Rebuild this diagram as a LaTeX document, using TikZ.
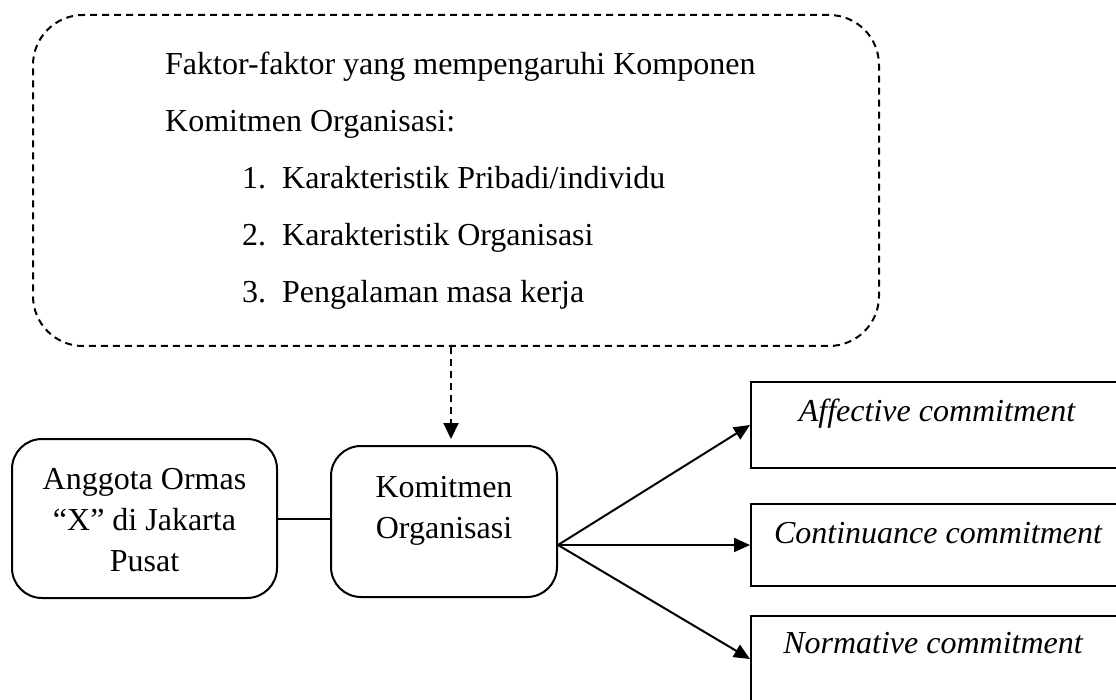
\documentclass[tikz,border=0pt]{standalone}
\usepackage{fontspec}
\setmainfont{Liberation Serif}
\usetikzlibrary{arrows.meta}
\begin{document}
\begin{tikzpicture}[x=1pt,y=-1pt,
  font=\fontsize{32}{41}\selectfont,
  txt/.style={inner sep=0pt},
  dashbox/.style={draw, line width=2pt, dash pattern=on 7pt off 5pt, rounded corners=50pt, inner sep=0pt},
  roundbox/.style={draw, line width=2pt, rounded corners=30pt, inner sep=0pt},
  sqbox/.style={draw, line width=2pt, inner sep=0pt, minimum width=372pt},
  arr/.style={line width=2pt, -{Triangle[length=16pt,width=14pt]}},
  darr/.style={line width=2pt, dash pattern=on 7pt off 5pt, -{Triangle[length=16pt,width=15pt]}},
  conn/.style={line width=2pt}
]
\useasboundingbox (0,0) rectangle (1116,700);
\clip (0,0) rectangle (1116,700);

% dashed factor box
\node[dashbox, minimum width=846pt, minimum height=331pt] (factors) at (456,180.5) {};
\node[txt, anchor=base west] (f1) at (165,75) {Faktor-faktor yang mempengaruhi Komponen};
\node[txt, anchor=base west] (f2) at (165,132) {Komitmen Organisasi:};
\node[txt, anchor=base west] (n1) at (242,189) {1.};
\node[txt, anchor=base west] (i1) at (282,189) {Karakteristik Pribadi/individu};
\node[txt, anchor=base west] (n2) at (242,246) {2.};
\node[txt, anchor=base west] (i2) at (282,246) {Karakteristik Organisasi};
\node[txt, anchor=base west] (n3) at (242,303) {3.};
\node[txt, anchor=base west] (i3) at (282,303) {Pengalaman masa kerja};

% left boxes
\node[roundbox, minimum width=265pt, minimum height=159pt] (anggota) at (144.5,518.5) {};
\node[txt, align=center] (atext) at (144.5,520) {Anggota Ormas\\“X” di Jakarta\\Pusat};
\node[roundbox, minimum width=226pt, minimum height=151pt] (kom) at (444,521.5) {};
\node[txt, align=center] (ktext) at (444,511) {Komitmen\\Organisasi};

% right boxes
\node[sqbox, minimum height=86pt] (box1) at (937,425) {};
\node[txt, anchor=base] (t1) at (937,421) {\itshape Affective commitment};
\node[sqbox, minimum height=82pt] (box2) at (937,545) {};
\node[txt, anchor=base] (t2) at (938,543) {\itshape Continuance commitment};
\node[sqbox, minimum height=86pt] (box3) at (937,659) {};
\node[txt, anchor=base] (t3) at (933,653) {\itshape Normative commitment};

% connectors
\draw[conn] (anggota.east) -- (anggota.east -| kom.west);
\coordinate (dx) at (451,0);
\draw[darr] (factors.south -| dx) -- ([yshift=6pt]kom.north -| dx);
\coordinate (fy) at (0,545);
\coordinate (fan) at (kom.east |- fy);
\draw[arr] (fan) -- (box1.west);
\draw[arr] (fan) -- (box2.west);
\draw[arr] (fan) -- (box3.west);
\end{tikzpicture}
\end{document}
